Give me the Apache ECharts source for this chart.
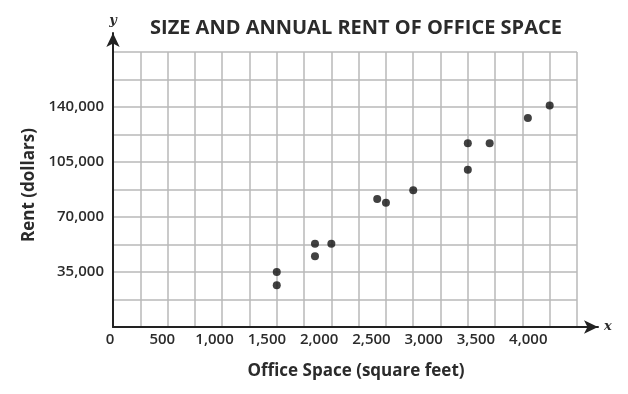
<!DOCTYPE html>
<html><head><meta charset="utf-8">
<script src="https://cdn.jsdelivr.net/npm/echarts@6/dist/echarts.min.js"></script>
<style>html,body{margin:0;padding:0;background:#fff}#c{width:628px;height:394px}</style>
</head><body><div id="c"></div>
<script>
const officeSpace = [1500, 1500, 1850, 1850, 2000, 2420, 2500, 2750, 3250, 3250, 3450, 3800, 4000];
const rent = [35000, 26500, 53000, 45000, 53000, 81500, 79000, 87000, 117000, 100000, 117000, 133000, 141000];
const xTickValues = [0, 500, 1000, 1500, 2000, 2500, 3000, 3500, 4000];
const xTickLabels = ['0', '500', '1,000', '1,500', '2,000', '2,500', '3,000', '3,500', '4,000'];
const yTickValues = [35000, 70000, 105000, 140000];
const yTickLabels = ['35,000', '70,000', '105,000', '140,000'];
const titleText = 'SIZE AND ANNUAL RENT OF OFFICE SPACE';
const xName = 'Office Space (square feet)';
const yName = 'Rent (dollars)';

const FONT = '"Open Sans", sans-serif';
const TXT = '#2b2b2b';
const chart = echarts.init(document.getElementById('c'));
const gridColor = '#b8b8b8';

chart.setOption({
  animation: false,
  title: {
    text: titleText, left: 145, top: 13,
    textStyle: { fontFamily: FONT, fontSize: 20, fontWeight: 'bold', color: TXT }
  },
  grid: [
    { left: 113, right: 51, top: 52, bottom: 67, containLabel: false },
    { left: 113, right: 30, top: 33, bottom: 67, containLabel: false },
    { left: 110, right: 51, top: 52, bottom: 67, containLabel: false }
  ],
  xAxis: [
    { type: 'value', gridIndex: 0, position: 'bottom', min: 0, max: 4250, interval: 250,
      axisLine: { show: false }, axisTick: { show: false }, axisLabel: { show: false },
      splitLine: { show: true, lineStyle: { color: gridColor, width: 1.5 } } },
    { type: 'value', gridIndex: 1, position: 'bottom', min: 0, max: 1,
      axisLine: { show: true, onZero: false, symbol: ['none', 'arrow'], symbolSize: [10, 14],
        lineStyle: { color: '#222', width: 2 } },
      axisTick: { show: false }, axisLabel: { show: false }, splitLine: { show: false },
      name: 'x', nameLocation: 'end', nameGap: 6,
      nameTextStyle: { fontFamily: 'DejaVu Serif', fontStyle: 'italic', fontWeight: 'bold', fontSize: 13, color: TXT } },
    { type: 'value', gridIndex: 2, position: 'bottom', min: 0, max: 4466,
      axisLine: { show: false }, axisTick: { show: false }, splitLine: { show: false },
      axisLabel: { show: true, customValues: xTickValues, margin: 5,
        formatter: v => xTickLabels[xTickValues.indexOf(v)],
        fontFamily: FONT, fontSize: 15, fontWeight: 600, color: TXT },
      name: xName, nameLocation: 'middle', nameGap: 36,
      nameTextStyle: { fontFamily: FONT, fontSize: 17, fontWeight: 'bold', color: TXT, padding: [0, 0, 0, 25] } }
  ],
  yAxis: [
    { type: 'value', gridIndex: 0, min: 0, max: 175000, interval: 17500,
      axisLine: { show: false }, axisTick: { show: false },
      axisLabel: { show: true, customValues: yTickValues, margin: 9,
        formatter: v => yTickLabels[yTickValues.indexOf(v)],
        fontFamily: FONT, fontSize: 15, fontWeight: 600, color: TXT },
      splitLine: { show: true, lineStyle: { color: gridColor, width: 1.5 } },
      name: yName, nameLocation: 'middle', nameGap: 75, nameRotate: 90,
      nameTextStyle: { fontFamily: FONT, fontSize: 17, fontWeight: 'bold', color: TXT, padding: [0, 0, 0, 9] } },
    { type: 'value', gridIndex: 1, min: 0, max: 1,
      axisLine: { show: true, onZero: false, symbol: ['none', 'arrow'], symbolSize: [10, 14],
        lineStyle: { color: '#222', width: 2 } },
      axisTick: { show: false }, axisLabel: { show: false }, splitLine: { show: false },
      name: 'y', nameLocation: 'end', nameGap: 6,
      nameTextStyle: { fontFamily: 'DejaVu Serif', fontStyle: 'italic', fontWeight: 'bold', fontSize: 13, color: TXT } },
    { type: 'value', gridIndex: 2, min: 0, max: 1, show: false }
  ],
  series: [{
    type: 'scatter', xAxisIndex: 0, yAxisIndex: 0,
    data: officeSpace.map((x, i) => [x, rent[i]]),
    symbol: 'circle', symbolSize: 8,
    itemStyle: { color: '#111' }
  }]
});
</script></body></html>
